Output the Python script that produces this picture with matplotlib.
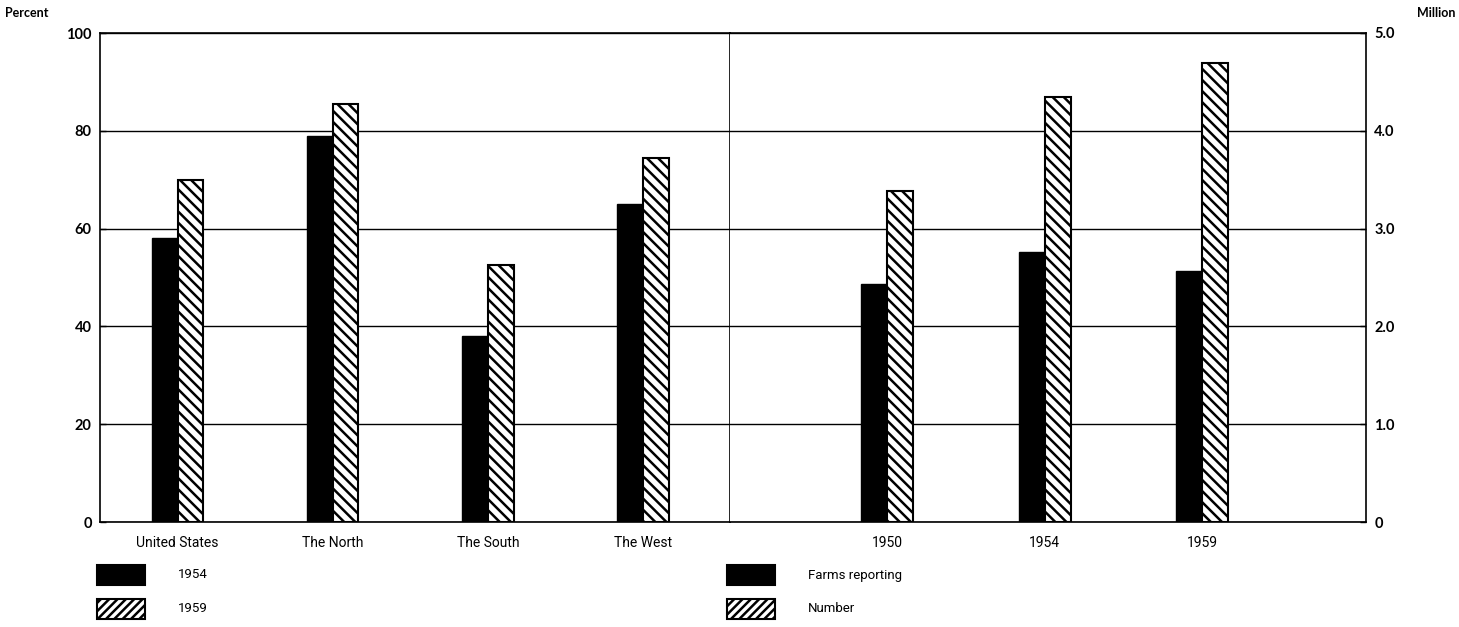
import numpy as np
import matplotlib
matplotlib.use("Agg")
import matplotlib.pyplot as plt
from matplotlib.patches import Rectangle

# data
regions = ["United States", "The North", "The South", "The West"]
pct_1954 = [58, 79, 38, 65]
pct_1959 = [70, 85.5, 52.5, 74.5]

years = ["1950", "1954", "1959"]
farms_reporting = [2.43, 2.76, 2.57]   # million
number = [3.38, 4.35, 4.69]            # million

legend_left = ["1954", "1959"]
legend_right = ["Farms reporting", "Number"]

plt.rcParams['hatch.linewidth'] = 1.8
plt.rcParams['hatch.color'] = 'black'

bold_font = ['Lato', 'DejaVu Sans']
narrow_font = ['Liberation Sans Narrow', 'Roboto', 'DejaVu Sans']

W, H = 1459, 627
fig = plt.figure(figsize=(W / 100, H / 100), dpi=100)

x0, x_div, x1 = 100, 730, 1366
y_top, y_bot = 33, 522
ax1 = fig.add_axes([x0 / W, 1 - y_bot / H, (x_div - x0) / W, (y_bot - y_top) / H])
ax2 = fig.add_axes([x_div / W, 1 - y_bot / H, (x1 - x_div) / W, (y_bot - y_top) / H])

bw = 0.165

# left panel: percent
xl = np.arange(len(regions))
ax1.bar(xl - bw / 2, pct_1954, width=bw, color='black', edgecolor='black', linewidth=1, zorder=3)
ax1.bar(xl + bw / 2, pct_1959, width=bw, color='white', edgecolor='black', linewidth=1.5,
        hatch='\\\\\\', zorder=3)
ax1.set_xlim(-0.5, 3.56)
ax1.set_ylim(0, 100)
ax1.set_yticks([0, 20, 40, 60, 80, 100])
ax1.set_xticks(xl)
ax1.set_xticklabels(regions, family=narrow_font, fontsize=10)

# right panel: million
xr = np.arange(len(years))
ax2.bar(xr - bw / 2, farms_reporting, width=bw, color='black', edgecolor='black', linewidth=1, zorder=3)
ax2.bar(xr + bw / 2, number, width=bw, color='white', edgecolor='black', linewidth=1.5,
        hatch='\\\\\\', zorder=3)
ax2.set_xlim(-1.0, 3.04)
ax2.set_ylim(0, 5)
ax2.set_yticks([0, 1, 2, 3, 4, 5])
ax2.set_yticklabels(["0", "1.0", "2.0", "3.0", "4.0", "5.0"])
ax2.yaxis.tick_right()
ax2.set_xticks(xr)
ax2.set_xticklabels(years, family=narrow_font, fontsize=10)

for ax in (ax1, ax2):
    ax.grid(axis='y', color='black', linewidth=1.0, zorder=1)
    ax.tick_params(axis='x', length=0, pad=10)
    ax.tick_params(axis='y', length=4, width=1, direction='in', pad=6)
    for lab in ax.get_yticklabels():
        lab.set_family(bold_font)
        lab.set_fontweight('bold')
        lab.set_fontsize(10.5)
    for s in ax.spines.values():
        s.set_linewidth(1.2)
        s.set_color('black')
ax2.spines['left'].set_visible(False)

fig.text(5 / W, 1 - 13 / H, "Percent", family=bold_font, fontweight='bold', fontsize=9,
         ha='left', va='center')
fig.text(1456 / W, 1 - 13 / H, "Million", family=bold_font, fontweight='bold', fontsize=9,
         ha='right', va='center')

# hand-drawn legends below the panels
def legend_block(xbox, xtext, labels):
    rows = [575, 609]
    styles = [dict(facecolor='black', hatch=None), dict(facecolor='white', hatch='////')]
    for lab, yc, st in zip(labels, rows, styles):
        r = Rectangle((xbox / W, 1 - (yc + 10) / H), 48 / W, 20 / H, transform=fig.transFigure,
                      facecolor=st['facecolor'], edgecolor='black', linewidth=1.5,
                      hatch=st['hatch'])
        fig.patches.append(r)
        fig.text(xtext / W, 1 - yc / H, lab, family=narrow_font, fontsize=9.5,
                 ha='left', va='center')

legend_block(97, 178, legend_left)
legend_block(727, 808, legend_right)

fig.savefig("out.png", dpi=100)
